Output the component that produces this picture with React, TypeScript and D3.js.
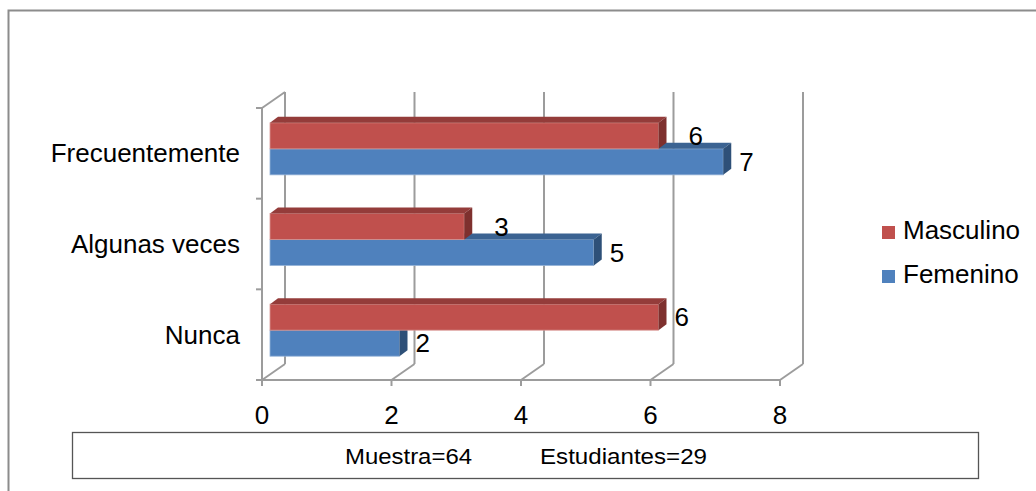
import * as d3 from 'd3'

// categories top → bottom, as drawn
const categories = ['Frecuentemente', 'Algunas veces', 'Nunca']
const masculino = [6, 3, 6]
const femenino = [7, 5, 2]
const xTicks = [0, 2, 4, 6, 8]
const seriesNames = ['Masculino', 'Femenino']
const footerTexts = ['Muestra=64', 'Estudiantes=29']

const W = 1036
const H = 491
const FONT = '"Liberation Sans", Arial, sans-serif'

// 3D depth of the plot box (front → back wall)
const DX = 23
const DY = -16
// bars sit a bit inside the box, with their own depth
const BSX = 8
const BDX = 8
const BDY = -6

const RED = { front: '#C0504D', top: '#943C3A', side: '#7E302E', edge: '#D99794' }
const BLUE = { front: '#4F81BD', top: '#3B6392', side: '#2E5078', edge: '#95B3D7' }
const GRID = '#9c9c9c'

export default function App() {
  const x = d3.scaleLinear().domain([0, 8]).range([262, 780])
  const y = d3.scaleBand<string>().domain(categories).range([108, 380])
  const bw = y.bandwidth()
  const barH = bw * 0.287
  const yBot = 380
  const yTop = 108

  const bars = categories.flatMap((c, i) => {
    const gTop = (y(c) ?? 0) + (bw - 2 * barH) / 2 - 4.5
    return [
      { key: `f${i}`, v: femenino[i], other: masculino[i], y0: gTop + barH, col: BLUE, below: true },
      { key: `m${i}`, v: masculino[i], other: femenino[i], y0: gTop, col: RED, below: false },
    ]
  })

  const x0 = x(0) + BSX

  return (
    <svg
      width={W}
      height={H}
      style={{ position: 'absolute', left: 0, top: 0, background: '#fff' }}
      fontFamily={FONT}
    >
      {/* outer frame (top + left only visible) */}
      <path d={`M8.5,${H} L8.5,10.5 L${W},10.5`} fill="none" stroke="#8c8c8c" strokeWidth={2} />

      {/* back wall gridlines */}
      {xTicks.map((t) => (
        <line
          key={`g${t}`}
          x1={x(t) + DX}
          x2={x(t) + DX}
          y1={yTop + DY}
          y2={yBot + DY}
          stroke={GRID}
          strokeWidth={2}
        />
      ))}
      {/* floor: front edge, ticks, diagonals */}
      <line x1={x(0)} x2={x(8)} y1={yBot} y2={yBot} stroke={GRID} strokeWidth={2} />
      {xTicks.map((t) => (
        <g key={`f${t}`}>
          <line x1={x(t)} x2={x(t)} y1={yBot} y2={yBot + 6} stroke={GRID} strokeWidth={2} />
          <line x1={x(t)} x2={x(t) + DX} y1={yBot} y2={yBot + DY} stroke={GRID} strokeWidth={2} />
        </g>
      ))}
      {/* left wall */}
      <line x1={x(0)} x2={x(0)} y1={yTop} y2={yBot} stroke={GRID} strokeWidth={2} />
      <line x1={x(0)} x2={x(0) + DX} y1={yTop} y2={yTop + DY} stroke={GRID} strokeWidth={2} />
      {[...categories.map((c) => y(c) ?? 0), yBot].map((yy, i) => (
        <line key={`lt${i}`} x1={x(0) - 6} x2={x(0)} y1={yy} y2={yy} stroke={GRID} strokeWidth={2} />
      ))}

      {/* bars */}
      {bars.map((b) => {
        const x1 = x(b.v) + BSX
        const y0 = b.y0
        const y1 = b.y0 + barH
        return (
          <g key={b.key}>
            <rect x={x0} y={y0} width={x1 - x0} height={barH} fill={b.col.front} stroke={b.col.edge} strokeWidth={0.8} />
            <polygon
              points={`${x0},${y0} ${x1},${y0} ${x1 + BDX},${y0 + BDY} ${x0 + BDX},${y0 + BDY}`}
              fill={b.col.top}
            />
            <polygon
              points={`${x1},${y0} ${x1 + BDX},${y0 + BDY} ${x1 + BDX},${y1 + BDY} ${x1},${y1}`}
              fill={b.col.side}
            />
          </g>
        )
      })}

      {/* value labels */}
      {bars.map((b) => {
        const extra = !b.below && b.other > b.v ? 14 : 0
        return (
          <text
            key={`l${b.key}`}
            x={x(b.v) + BSX + BDX + 8 + extra}
            y={b.y0 + barH / 2}
            dy="0.35em"
            fontSize={26}
            fill="#000"
          >
            {b.v}
          </text>
        )
      })}

      {/* category labels */}
      {categories.map((c) => (
        <text
          key={c}
          x={240}
          y={(y(c) ?? 0) + bw / 2}
          dy="0.35em"
          textAnchor="end"
          fontSize={26}
          fill="#000"
        >
          {c}
        </text>
      ))}

      {/* x tick labels */}
      {xTicks.map((t) => (
        <text key={`t${t}`} x={x(t)} y={424} textAnchor="middle" fontSize={26} fill="#000">
          {t}
        </text>
      ))}

      {/* legend */}
      {seriesNames.map((s, i) => (
        <g key={s} transform={`translate(882,${226 + i * 44})`}>
          <rect width={13} height={13} fill={i === 0 ? RED.front : BLUE.front} />
          <text x={21} y={13} fontSize={26} fill="#000">
            {s}
          </text>
        </g>
      ))}

      {/* footer box */}
      <rect x={72.5} y={432.5} width={906} height={46} fill="#fff" stroke="#555" strokeWidth={1.3} />
      <text x={345} y={464} fontSize={22} textLength={127} lengthAdjust="spacingAndGlyphs" fill="#000">
        {footerTexts[0]}
      </text>
      <text x={540} y={464} fontSize={22} textLength={167} lengthAdjust="spacingAndGlyphs" fill="#000">
        {footerTexts[1]}
      </text>
    </svg>
  )
}
